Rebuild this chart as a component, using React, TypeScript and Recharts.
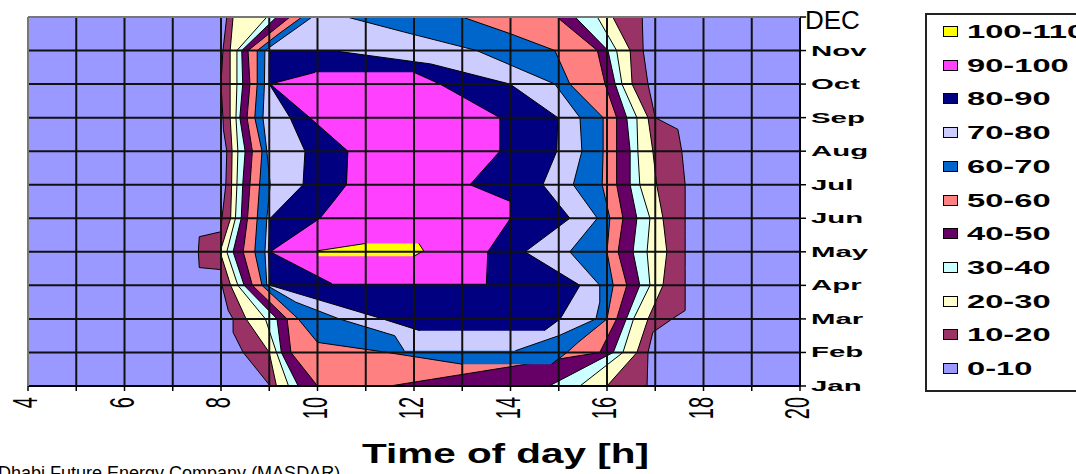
import { ComposedChart, Area, XAxis, YAxis, ReferenceLine, Legend } from "recharts"

const monthLabels = ["Jan", "Feb", "Mar", "Apr", "May", "Jun", "Jul", "Aug", "Sep", "Oct", "Nov", "DEC"]
const monthTicks = [1, 2, 3, 4, 5, 6, 7, 8, 9, 10, 11, 12]
const hourTicks = [4, 5, 6, 7, 8, 9, 10, 11, 12, 13, 14, 15, 16, 17, 18, 19, 20]
const bandNames = ["0-10", "10-20", "20-30", "30-40", "40-50", "50-60", "60-70", "70-80", "80-90", "90-100", "100-110"]
const bandColors = ["#9999FF", "#993366", "#FFFFCC", "#CCFFFF", "#660066", "#FF8080", "#0066CC", "#CCCCFF", "#000080", "#FF40FF", "#FFFF00"]

// [month, from hour, to hour] where the value is at least the band's lower bound
const band0 = [[1, 4, 20], [12, 4, 20]]
const band10 = [
  [1, 9.02, 16.83], [2, 8.46, 16.85], [2.6, 8.25, 16.95], [3, 8.25, 17.35], [3.25, 8.15, 17.62],
  [4, 8.02, 17.62], [4.47, 8.0, 17.62], [4.53, 7.55, 17.62], [5, 7.53, 17.62], [5.45, 7.55, 17.62],
  [5.6, 8.0, 17.62], [6, 8.02, 17.62], [7, 8.1, 17.62], [8, 8.12, 17.55], [8.65, 8.05, 17.47],
  [9, 8.04, 17.0], [10, 8.0, 16.85], [11, 8.04, 16.75], [12, 8.12, 16.73],
]
const band20 = [
  [1, 9.15, 16.0], [2, 9.0, 16.62], [3, 8.52, 16.85], [4, 8.2, 17.16], [5, 7.98, 17.24], [6, 8.2, 17.16],
  [7, 8.22, 17.03], [8, 8.23, 16.95], [9, 8.19, 16.85], [10, 8.19, 16.52], [11, 8.19, 16.48], [12, 8.25, 16.12],
]
const band30 = [
  [1, 9.4, 15.44], [2, 9.15, 16.33], [3, 8.92, 16.55], [4, 8.35, 16.89], [5, 8.12, 16.83], [6, 8.3, 16.89],
  [7, 8.33, 16.68], [8, 8.35, 16.64], [9, 8.31, 16.62], [10, 8.33, 16.31], [11, 8.33, 16.2], [12, 8.95, 15.8],
]
const band40 = [
  [1, 9.6, 14.8], [2, 9.25, 16.13], [3, 9.16, 16.4], [4, 8.48, 16.68], [5, 8.25, 16.54], [6, 8.42, 16.62],
  [7, 8.45, 16.48], [8, 8.5, 16.48], [9, 8.39, 16.41], [10, 8.45, 16.17], [11, 8.43, 16.02], [12, 9.15, 15.34],
]
const band50 = [
  [1, 10.0, 11.5], [2, 9.45, 15.85], [3, 9.37, 16.2], [4, 8.65, 16.41], [5, 8.46, 16.23], [6, 8.55, 16.33],
  [7, 8.6, 16.2], [8, 8.65, 16.2], [9, 8.54, 16.2], [10, 8.6, 15.96], [11, 8.56, 15.8], [12, 9.43, 14.96],
]
const band60 = [
  [1.65, 13.0, 14.85], [2, 11.45, 15.17], [2.3, 10.0, 15.4], [3, 9.6, 16.0], [4, 8.85, 16.13], [5, 8.7, 16.0],
  [6, 8.75, 16.06], [7, 8.8, 15.9], [8, 8.85, 15.92], [9, 8.7, 15.92], [10, 8.75, 15.23], [11, 8.75, 14.92],
  [11.5, 9.2, 14.0], [12, 9.68, 13.0],
]
const band70 = [
  [2.05, 11.8, 14.1], [2.5, 11.6, 15.0], [3, 10.45, 15.77], [3.5, 9.55, 15.85], [4, 8.95, 15.85],
  [5, 8.91, 15.23], [6, 8.95, 15.8], [7, 9.02, 15.3], [8, 8.95, 15.48], [9, 8.87, 15.44], [10, 8.9, 14.92],
  [11, 8.91, 13.3], [11.55, 9.45, 11.8], [12, 9.89, 10.61],
]
const band80 = [
  [2.65, 12.12, 14.7], [3, 11.35, 15.03], [4, 9.02, 15.44], [5, 8.98, 14.3], [6, 9.02, 15.23],
  [7, 9.7, 14.67], [8, 9.74, 14.96], [9, 9.43, 14.98], [10, 9.0, 13.99], [10.6, 9.0, 12.35], [11, 9.02, 10.3],
]
const band90 = [
  [4.05, 10.3, 13.5], [5, 9.02, 13.53], [6, 10.05, 14.0], [6.5, 10.33, 14.0], [7, 10.6, 13.16],
  [8, 10.63, 13.78], [9, 9.84, 13.78], [10, 9.02, 12.54], [10.35, 9.95, 12.0],
]
const band100 = [[4.87, 10.0, 12.0], [5.03, 10.0, 12.2], [5.25, 11.0, 12.1]]

const bands = [band0, band10, band20, band30, band40, band50, band60, band70, band80, band90, band100]

const rowMonths = Array.from(new Set(bands.flatMap((b) => b.map((p) => p[0])))).sort((a, b) => a - b)
const data = rowMonths.map((m) => {
  const row: any = { m }
  bands.forEach((b, i) => {
    const p = b.find((q) => q[0] === m)
    row["b" + i] = p ? [p[1], p[2]] : [null, null]
  })
  return row
})

const font = "'Liberation Sans', Arial, sans-serif"

const XTick = ({ x, payload }: any) => {
  if (payload.value % 2 !== 0) return <g />
  return (
    <text
      transform={`translate(${x - 3},397) scale(1.75,1) rotate(-90)`}
      y={7}
      textAnchor="end"
      fontSize={20}
      fontFamily={font}
      fill="#000"
    >
      {payload.value}
    </text>
  )
}

const YTick = ({ x, y, payload }: any) => {
  const v = payload.value
  if (v === 12) {
    return (
      <text x={x - 6} y={29} fontSize={26} fontFamily={font} fill="#000">
        {monthLabels[v - 1]}
      </text>
    )
  }
  return (
    <text transform={`translate(${x},${y + 5}) scale(2.1,1)`} fontSize={14} fontWeight="bold" fontFamily={font} fill="#000">
      {monthLabels[v - 1]}
    </text>
  )
}

const titleLabel = () => (
  <g>
    <text transform="translate(362,463) scale(1.445,1)" fontSize={28} fontWeight="bold" fontFamily={font} fill="#000">
      Time of day [h]
    </text>
    <text x={-2} y={479} fontSize={18} fontFamily={font} fill="#000">
      Dhabi Future Energy Company (MASDAR)
    </text>
  </g>
)

const renderLegend = () => (
  <div
    style={{
      position: "relative",
      width: 160,
      height: 379,
      boxSizing: "border-box",
      border: "2px solid #222",
      background: "#fff",
      fontFamily: font,
    }}
  >
    {bandNames
      .map((n, i) => ({ n, c: bandColors[i] }))
      .reverse()
      .map((e, k) => {
        const cy = 17 + k * 33.7
        return (
          <div key={e.n}>
            <div
              style={{
                position: "absolute",
                left: 16,
                top: cy - 6,
                width: 13,
                height: 9,
                background: e.c,
                border: "1px solid #000",
              }}
            />
            <div
              style={{
                position: "absolute",
                left: 40,
                top: cy - 11,
                fontSize: 19,
                lineHeight: "22px",
                fontWeight: "bold",
                whiteSpace: "nowrap",
                transform: "scaleX(1.72)",
                transformOrigin: "left center",
                color: "#000",
              }}
            >
              {e.n}
            </div>
          </div>
        )
      })}
  </div>
)

export default function App() {
  return (
    <div style={{ position: "fixed", left: 0, top: 0, width: 1076, height: 474, overflow: "hidden", background: "#fff" }}>
      <ComposedChart
        width={1076}
        height={474}
        data={data}
        layout="vertical"
        margin={{ top: 17, right: 0, bottom: 0, left: 28 }}
      >
        <XAxis
          type="number"
          domain={[4, 20]}
          ticks={hourTicks}
          interval={0}
          allowDataOverflow
          height={88}
          axisLine={{ stroke: "#000", strokeWidth: 2 }}
          tickLine={{ stroke: "#000", strokeWidth: 1.5 }}
          tickSize={5}
          tick={<XTick />}
          label={titleLabel}
        />
        <YAxis
          type="number"
          dataKey="m"
          orientation="right"
          domain={[1, 12]}
          ticks={monthTicks}
          interval={0}
          allowDataOverflow
          reversed
          width={276}
          axisLine={{ stroke: "#000", strokeWidth: 2 }}
          tickLine={{ stroke: "#000", strokeWidth: 1.5 }}
          tickSize={6}
          tickMargin={5}
          tick={<YTick />}
        />
        {bands.map((_, i) => (
          <Area
            key={i}
            name={bandNames[i]}
            type="linear"
            dataKey={(r: any) => r["b" + i]}
            fill={bandColors[i]}
            fillOpacity={1}
            stroke={i === 0 ? "none" : "#000"}
            strokeWidth={1}
            connectNulls
            dot={false}
            activeDot={false}
            isAnimationActive={false}
          />
        ))}
        {hourTicks.slice(1, -1).map((h) => (
          <ReferenceLine key={"h" + h} x={h} stroke="#111" strokeWidth={2} zIndex={1500} />
        ))}
        {monthTicks.slice(1, -1).map((m) => (
          <ReferenceLine key={"m" + m} y={m} stroke="#111" strokeWidth={2} zIndex={1500} />
        ))}
        <ReferenceLine x={4} stroke="#777" strokeWidth={2} zIndex={1500} />
        <ReferenceLine y={12} stroke="#777" strokeWidth={2} zIndex={1500} />
        <Legend
          layout="vertical"
          align="center"
          verticalAlign="middle"
          content={renderLegend}
          wrapperStyle={{ left: 925, top: 13, width: 160, height: 379 }}
        />
      </ComposedChart>
    </div>
  )
}
